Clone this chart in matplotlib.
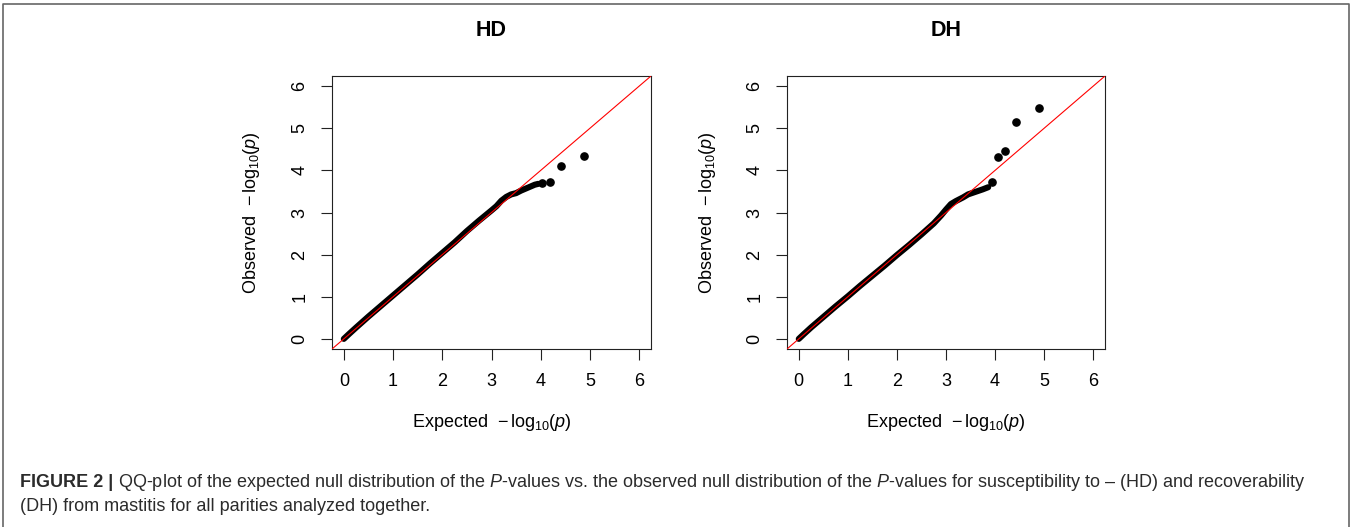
import numpy as np
import matplotlib
matplotlib.use('Agg')
import matplotlib.pyplot as plt
from matplotlib.lines import Line2D

plt.rcParams['font.family'] = ['Liberation Sans', 'DejaVu Sans']
plt.rcParams['mathtext.fontset'] = 'custom'
plt.rcParams['mathtext.rm'] = 'Liberation Sans'
plt.rcParams['mathtext.it'] = 'Liberation Sans:italic'
plt.rcParams['mathtext.bf'] = 'Liberation Sans:bold'

# HD: dense part of the QQ cloud (drawn as a band) and the separate tail points
hd_band_exp = [0.00, 0.10, 0.25, 0.50, 0.75, 1.00, 1.25, 1.50, 1.75, 2.00, 2.25, 2.50,
               2.75, 3.00, 3.10, 3.20, 3.30, 3.40, 3.50, 3.60, 3.70, 3.80, 3.88, 3.95]
hd_band_obs = [0.00, 0.11, 0.27, 0.53, 0.78, 1.03, 1.28, 1.53, 1.79, 2.04, 2.29, 2.56,
               2.81, 3.05, 3.15, 3.28, 3.37, 3.43, 3.46, 3.52, 3.57, 3.62, 3.66, 3.68]
hd_tail_exp = [4.03, 4.18, 4.41, 4.88]
hd_tail_obs = [3.70, 3.72, 4.11, 4.33]

# DH
dh_band_exp = [0.00, 0.10, 0.25, 0.50, 0.75, 1.00, 1.25, 1.50, 1.75, 2.00, 2.25, 2.50,
               2.75, 2.90, 3.00, 3.10, 3.20, 3.35, 3.45, 3.55, 3.65, 3.75, 3.86]
dh_band_obs = [0.00, 0.11, 0.27, 0.52, 0.77, 1.01, 1.26, 1.50, 1.74, 1.99, 2.23, 2.48,
               2.74, 2.93, 3.07, 3.20, 3.27, 3.36, 3.43, 3.47, 3.51, 3.55, 3.60]
dh_tail_exp = [3.94, 4.05, 4.20, 4.42, 4.89]
dh_tail_obs = [3.73, 4.31, 4.45, 5.14, 5.47]

ticks = [0, 1, 2, 3, 4, 5, 6]
panel_titles = ['HD', 'DH']

W, H = 1357, 527
fig = plt.figure(figsize=(W/100, H/100), dpi=100)

def px_axes(l, t, r, b):
    return fig.add_axes([l/W, 1-b/H, (r-l)/W, (b-t)/H])

ax1 = px_axes(332, 76, 651, 349)
ax2 = px_axes(787, 76, 1105, 349)

panels = [(ax1, hd_band_exp, hd_band_obs, hd_tail_exp, hd_tail_obs),
          (ax2, dh_band_exp, dh_band_obs, dh_tail_exp, dh_tail_obs)]

lab = r'$\mathrm{-\,log_{10}}(p)$'

for (ax, bx, by, tx, ty), title in zip(panels, panel_titles):
    # dense cloud of points -> thick band
    ax.plot(bx, by, color='black', lw=4.4, solid_capstyle='round',
            solid_joinstyle='round', zorder=2)
    ax.plot(tx, ty, 'o', color='black', ms=5.2, zorder=2)
    ax.axline((0, 0), slope=1, color='red', lw=0.8, zorder=3)
    ax.set_xlim(-0.24, 6.24)
    ax.set_ylim(-0.24, 6.24)
    ax.set_xticks(ticks)
    ax.set_yticks(ticks)
    ax.tick_params(length=8, width=0.8, labelsize=13, color='#222222')
    ax.tick_params(axis='x', pad=9)
    ax.tick_params(axis='y', pad=9)
    for t in ax.get_yticklabels():
        t.set_rotation(90)
        t.set_va('center')
    for s in ax.spines.values():
        s.set_linewidth(0.8)
        s.set_color('#222222')
    ax.text(0.5, 1.165, title, transform=ax.transAxes, ha='center', va='center',
            fontsize=15.5, fontweight='bold')
    ax.text(0.5, -0.271, 'Expected  ' + lab, transform=ax.transAxes,
            ha='center', va='center', fontsize=13)
    ax.text(-0.251, 0.5, 'Observed  ' + lab, transform=ax.transAxes,
            ha='center', va='center', rotation=90, fontsize=13)

# outer frame (open at the bottom)
frame_x = [3/W, 3/W, 1349/W, 1349/W]
frame_y = [0, 1-4/H, 1-4/H, 0]
fig.add_artist(Line2D(frame_x, frame_y, transform=fig.transFigure, color='#666666', lw=1.2))

# caption
cap_col = '#2b2b2b'
cap_fs = 13.0
t0 = fig.text(20.5/W, 1-487/H, 'FIGURE 2 |', fontsize=cap_fs, fontweight='bold',
              color=cap_col, va='baseline')
fig.canvas.draw()
bb = t0.get_window_extent(renderer=fig.canvas.get_renderer())
fig.text((bb.x1 + 4)/W, 1-487/H,
         'QQ-plot of the expected null distribution of the $P$-values vs. the observed null '
         'distribution of the $P$-values for susceptibility to \u2013 (HD) and recoverability',
         fontsize=cap_fs, color=cap_col, va='baseline')
fig.text(20.5/W, 1-511/H, '(DH) from mastitis for all parities analyzed together.',
         fontsize=cap_fs, color=cap_col, va='baseline')

plt.savefig('out.png', dpi=100)
